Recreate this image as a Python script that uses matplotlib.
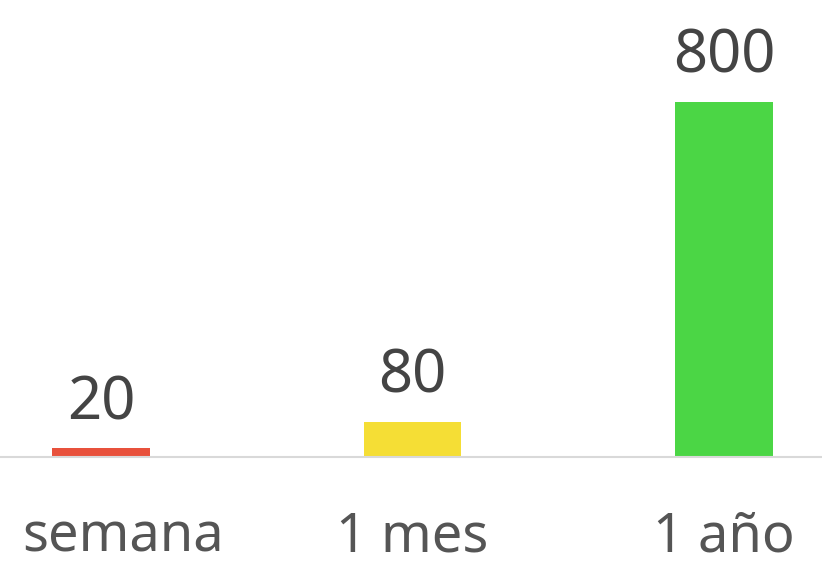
import numpy as np
import matplotlib.pyplot as plt
from matplotlib.transforms import ScaledTranslation

categories = ['semana', '1 mes', '1 año']
values = [20, 80, 800]
colors = ['#e8513c', '#f5de35', '#4bd645']

plt.rcParams['font.family'] = ['Noto Sans', 'DejaVu Sans']

fig = plt.figure(figsize=(8.22, 5.63), dpi=100)
ax = fig.add_axes([0, 0.188, 1, 0.788])

x = np.arange(len(categories))
bars = ax.bar(x, values, width=0.314, color=colors)

for xi, v in zip(x, values):
    ax.annotate(str(v), (xi, v), xytext=(0, 11), textcoords='offset points',
                ha='center', va='bottom', fontsize=43, color='#444444')

ax.set_xlim(-0.324, 2.314)
ax.set_ylim(0, 1000)
ax.set_xticks(x)
ax.set_xticklabels(categories, fontsize=39, color='#555555')
ax.tick_params(axis='x', length=0, pad=38)
ax.set_yticks([])
for s in ['top', 'left', 'right']:
    ax.spines[s].set_visible(False)
ax.spines['bottom'].set_color('#d9d9d9')
ax.spines['bottom'].set_linewidth(1.5)

# first label sits a bit to the right so it doesn't touch the edge
lab0 = ax.get_xticklabels()[0]
lab0.set_transform(lab0.get_transform() + ScaledTranslation(0.22, 0, fig.dpi_scale_trans))

fig.savefig('out.png', dpi=100)
